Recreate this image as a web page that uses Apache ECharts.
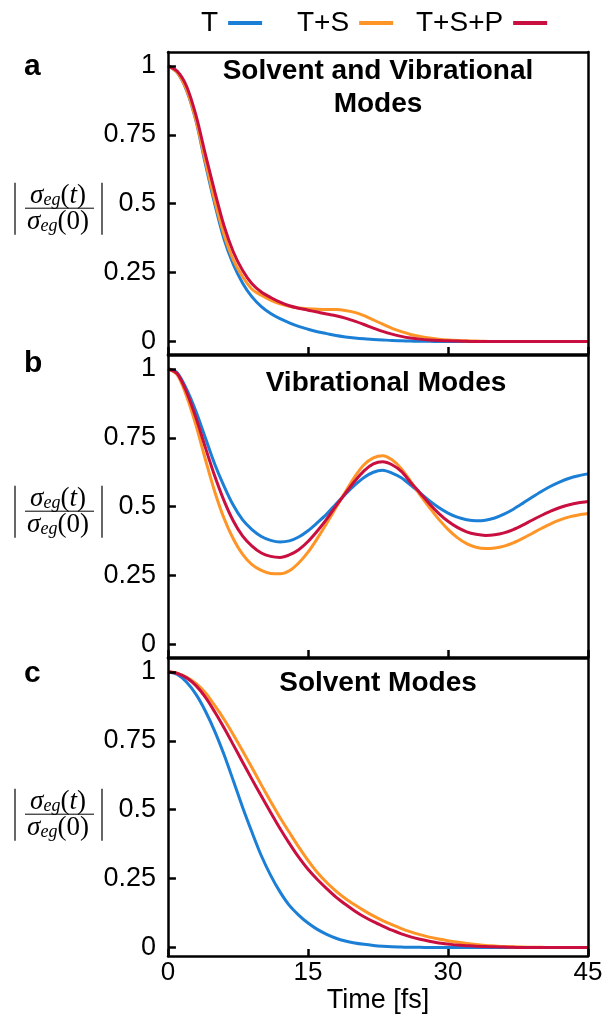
<!DOCTYPE html>
<html>
<head>
<meta charset="utf-8">
<script src="https://cdn.jsdelivr.net/npm/echarts@6/dist/echarts.min.js"></script>
<style>
  html, body { margin: 0; padding: 0; background: #fff; }
  #main { width: 612px; height: 1015px; }
</style>
</head>
<body>
<div id="main"></div>
<script>
// time axis [fs]
const time = [0, 1, 2, 3, 4, 5, 6, 7, 8, 9, 10, 11, 12, 13, 14, 15, 16, 17, 18, 19, 20, 21, 22,
  23, 24, 25, 26, 27, 28, 29, 30, 31, 32, 33, 34, 35, 36, 37, 38, 39, 40, 41, 42, 43, 44, 45];

// panel a - solvent and vibrational modes
const aT = [1.0, 0.975, 0.91, 0.80, 0.645, 0.50, 0.372, 0.28, 0.212, 0.162,
  0.127, 0.102, 0.083, 0.068, 0.055, 0.045, 0.036, 0.029, 0.022, 0.017,
  0.013, 0.010, 0.008, 0.006, 0.004, 0.003, 0.002, 0.001, 0.001, 0,
  0, 0, 0, 0, 0, 0, 0, 0, 0, 0, 0, 0, 0, 0, 0, 0];
const aTS = [1.0, 0.975, 0.912, 0.802, 0.655, 0.512, 0.388, 0.296, 0.235, 0.19,
  0.168, 0.15, 0.137, 0.128, 0.122, 0.119, 0.117, 0.116, 0.116, 0.113,
  0.106, 0.094, 0.079, 0.063, 0.048, 0.036, 0.026, 0.019, 0.013, 0.009,
  0.006, 0.004, 0.003, 0.002, 0.001, 0, 0, 0, 0, 0, 0, 0, 0, 0, 0, 0];
const aTSP = [1.0, 0.98, 0.925, 0.82, 0.68, 0.545, 0.42, 0.325, 0.258, 0.21,
  0.18, 0.16, 0.143, 0.13, 0.121, 0.114, 0.107, 0.10, 0.094, 0.085,
  0.074, 0.062, 0.049, 0.037, 0.027, 0.019, 0.013, 0.009, 0.006, 0.004,
  0.003, 0.002, 0.001, 0, 0, 0, 0, 0, 0, 0, 0, 0, 0, 0, 0, 0];

// panel b - vibrational modes
const bT = [1.0, 0.985, 0.925, 0.845, 0.75, 0.655, 0.575, 0.505, 0.452, 0.417,
  0.392, 0.378, 0.372, 0.376, 0.39, 0.413, 0.442, 0.473, 0.51, 0.545,
  0.578, 0.606, 0.625, 0.632, 0.622, 0.605, 0.578, 0.55, 0.522, 0.497,
  0.477, 0.462, 0.453, 0.449, 0.451, 0.459, 0.473, 0.491, 0.512, 0.534,
  0.555, 0.574, 0.59, 0.603, 0.612, 0.619];
const bTS = [1.0, 0.978, 0.9, 0.795, 0.672, 0.555, 0.458, 0.383, 0.327, 0.29,
  0.269, 0.258, 0.257, 0.268, 0.296, 0.335, 0.385, 0.44, 0.497, 0.553,
  0.608, 0.652, 0.677, 0.685, 0.67, 0.638, 0.592, 0.543, 0.498, 0.455,
  0.418, 0.388, 0.366, 0.353, 0.348, 0.35, 0.357, 0.369, 0.385, 0.403,
  0.421, 0.438, 0.452, 0.463, 0.47, 0.475];
const bTSP = [1.0, 0.982, 0.915, 0.822, 0.715, 0.612, 0.522, 0.448, 0.393, 0.357,
  0.332, 0.32, 0.316, 0.325, 0.344, 0.374, 0.412, 0.455, 0.503, 0.548,
  0.592, 0.63, 0.655, 0.663, 0.652, 0.628, 0.588, 0.55, 0.511, 0.476,
  0.447, 0.425, 0.409, 0.4, 0.396, 0.398, 0.405, 0.417, 0.433, 0.451,
  0.468, 0.484, 0.497, 0.507, 0.514, 0.519];

// panel c - solvent modes
const cT = [1.0, 0.99, 0.962, 0.918, 0.858, 0.785, 0.70, 0.605, 0.508, 0.418,
  0.333, 0.262, 0.202, 0.153, 0.118, 0.089, 0.066, 0.048, 0.034, 0.024,
  0.017, 0.012, 0.008, 0.005, 0.003, 0.002, 0.001, 0.001, 0, 0,
  0, 0, 0, 0, 0, 0, 0, 0, 0, 0, 0, 0, 0, 0, 0, 0];
const cTS = [1.0, 0.995, 0.98, 0.958, 0.924, 0.878, 0.828, 0.772, 0.713, 0.652,
  0.59, 0.53, 0.472, 0.418, 0.365, 0.316, 0.272, 0.236, 0.205, 0.178,
  0.155, 0.134, 0.115, 0.098, 0.083, 0.069, 0.057, 0.047, 0.038, 0.031,
  0.025, 0.02, 0.015, 0.011, 0.008, 0.006, 0.004, 0.003, 0.002, 0.001,
  0.001, 0, 0, 0, 0, 0];
const cTSP = [1.0, 0.994, 0.978, 0.95, 0.908, 0.855, 0.797, 0.735, 0.672, 0.61,
  0.55, 0.49, 0.432, 0.378, 0.328, 0.284, 0.247, 0.214, 0.183, 0.157,
  0.133, 0.112, 0.094, 0.078, 0.063, 0.05, 0.039, 0.03, 0.023, 0.017,
  0.013, 0.009, 0.007, 0.005, 0.004, 0.003, 0.002, 0.001, 0, 0,
  0, 0, 0, 0, 0, 0];

const seriesNames = ['T', 'T+S', 'T+S+P'];
const panelLetters = ['a', 'b', 'c'];
const panelTitles = ['Solvent and Vibrational\nModes', 'Vibrational Modes', 'Solvent Modes'];
const yTickValues = [0, 0.25, 0.5, 0.75, 1];

const panelData = [[aT, aTS, aTSP], [bT, bTS, bTSP], [cT, cTS, cTSP]];
const colors = ['#1b7fd6', '#ff9526', '#c90f3f'];
const FONT = '"Liberation Sans", Arial, sans-serif';
const SERIF = '"Liberation Serif", "DejaVu Serif", serif';

// layout of the three stacked panels: every panel is a frame grid (box + time ticks)
// with an inner data grid covering y = 0..1
const panelTops = [52, 355, 658];
const panelH = 302;
const padTop = 13.8, padBottom = 12.4;   // room above 1 and below 0 inside the box
const titlePos = [[378, 54.5], [386, 366.5], [378, 667]];
const letterTops = [50.5, 347, 657];
const legendLefts = [201, 297, 416];
const tickLen = 0.85;                    // length of the value ticks, in fs

function pairs(values) {
    return time.map((t, i) => [t, values[i]]);
}

// short inward ticks on the left edge, drawn as a markLine in data coordinates
function valueTicks() {
    return {
        silent: true, animation: false, symbol: ['none', 'none'],
        label: { show: false },
        lineStyle: { color: '#000', width: 2.5, type: 'solid' },
        emphasis: { disabled: true },
        data: yTickValues.map(v => [{ coord: [0, v] }, { coord: [tickLen, v] }])
    };
}

// |sigma_eg(t) / sigma_eg(0)| drawn as a little fraction
const fracRich = {
    i: { fontFamily: SERIF, fontStyle: 'italic', fontSize: 27, color: '#000' },
    s: { fontFamily: SERIF, fontStyle: 'italic', fontSize: 18, color: '#000', verticalAlign: 'bottom' },
    n: { fontFamily: SERIF, fontSize: 27, color: '#000' }
};
function fractionLabel(cy) {
    const black = { stroke: '#000', lineWidth: 1.2 };
    return {
        type: 'group',
        children: [
            { type: 'line', shape: { x1: 15, y1: cy - 21, x2: 15, y2: cy + 31 }, style: black },
            { type: 'line', shape: { x1: 102, y1: cy - 21, x2: 102, y2: cy + 31 }, style: black },
            { type: 'line', shape: { x1: 25, y1: cy + 4.5, x2: 94, y2: cy + 4.5 }, style: { stroke: '#000', lineWidth: 1 } },
            { type: 'text', x: 58, y: cy - 8, style: { text: '{i|σ}{s|eg}{n|(}{i|t}{n|)}', rich: fracRich, align: 'center', verticalAlign: 'middle' } },
            { type: 'text', x: 58, y: cy + 18, style: { text: '{i|σ}{s|eg}{n|(0)}', rich: fracRich, align: 'center', verticalAlign: 'middle' } }
        ]
    };
}

const frameLine = { show: true, onZero: false, lineStyle: { color: '#000', width: 2.5 } };
const tickStyle = { color: '#000', width: 2.5 };
const grids = [], xAxes = [], yAxes = [], series = [], titles = [], graphics = [];
panelTops.forEach((top, p) => {
    const last = p === panelTops.length - 1;
    const frame = 2 * p, inner = 2 * p + 1;
    const innerH = panelH - padTop - padBottom;

    // frame grid: the box is made of four axis lines, time ticks on the bottom one
    grids.push({ left: 168, top: top, width: 420, height: panelH });
    xAxes.push({
        type: 'value', gridIndex: frame, position: 'bottom', min: 0, max: 45, interval: 15, z: 10,
        axisLine: frameLine,
        axisTick: { show: true, inside: true, length: 7, lineStyle: tickStyle },
        axisLabel: { show: last, color: '#000', fontSize: 26, fontFamily: FONT, margin: 4 },
        splitLine: { show: false },
        name: last ? 'Time [fs]' : '',
        nameLocation: 'middle', nameGap: 27,
        nameTextStyle: { color: '#000', fontSize: 27, fontFamily: FONT }
    });
    xAxes.push({
        type: 'value', gridIndex: frame, position: 'top', min: 0, max: 45, z: 10,
        axisLine: frameLine, axisTick: { show: false }, axisLabel: { show: false }, splitLine: { show: false }
    });
    yAxes.push({
        type: 'value', gridIndex: frame, position: 'left', min: 0, max: 1, z: 10,
        axisLine: frameLine, axisTick: { show: false }, axisLabel: { show: false }, splitLine: { show: false }
    });
    yAxes.push({
        type: 'value', gridIndex: frame, position: 'right', min: 0, max: 1, z: 10,
        axisLine: frameLine, axisTick: { show: false }, axisLabel: { show: false }, splitLine: { show: false }
    });

    // data grid: 0..1
    grids.push({ left: 168, top: top + padTop, width: 420, height: innerH });
    xAxes.push({ type: 'value', gridIndex: inner, min: 0, max: 45, interval: 15, show: false });
    yAxes.push({
        type: 'value', gridIndex: inner, position: 'left', min: 0, max: 1, interval: 0.25, z: 10,
        axisLine: { show: false, onZero: false },
        axisTick: { show: false },
        axisLabel: { color: '#000', fontSize: 27, fontFamily: FONT, margin: 12, formatter: v => String(v) },
        splitLine: { show: false }
    });

    panelData[p].forEach((vals, k) => {
        const s = {
            type: 'line', name: seriesNames[k],
            xAxisIndex: xAxes.length - 1, yAxisIndex: yAxes.length - 1,
            data: pairs(vals), showSymbol: false, smooth: 0.3, clip: false,
            lineStyle: { color: colors[k], width: 3 },
            itemStyle: { color: colors[k] }
        };
        if (k === 0) s.markLine = valueTicks();
        series.push(s);
    });
    titles.push({
        text: panelTitles[p], left: titlePos[p][0], top: titlePos[p][1], textAlign: 'center', padding: 0,
        textStyle: { color: '#000', fontSize: 28, fontWeight: 'bold', fontFamily: FONT, lineHeight: 33 }
    });
    titles.push({
        text: panelLetters[p], left: 24, top: letterTops[p], textAlign: 'left', padding: 0,
        textStyle: { color: '#000', fontSize: 30, fontWeight: 'bold', fontFamily: FONT, lineHeight: 33 }
    });
    graphics.push(fractionLabel(top + padTop + innerH / 2));
});

const legends = seriesNames.map((name, k) => ({
    data: [name], left: legendLefts[k], top: 9, padding: 0, align: 'right',
    icon: 'rect', itemWidth: 34, itemHeight: 4,
    textStyle: { color: '#000', fontSize: 28, fontFamily: FONT, padding: [0, 5, 0, 0] }
}));

const chart = echarts.init(document.getElementById('main'));
chart.setOption({
    animation: false,
    backgroundColor: '#fff',
    title: titles,
    legend: legends,
    grid: grids,
    xAxis: xAxes,
    yAxis: yAxes,
    series: series,
    graphic: graphics
});
</script>
</body>
</html>
